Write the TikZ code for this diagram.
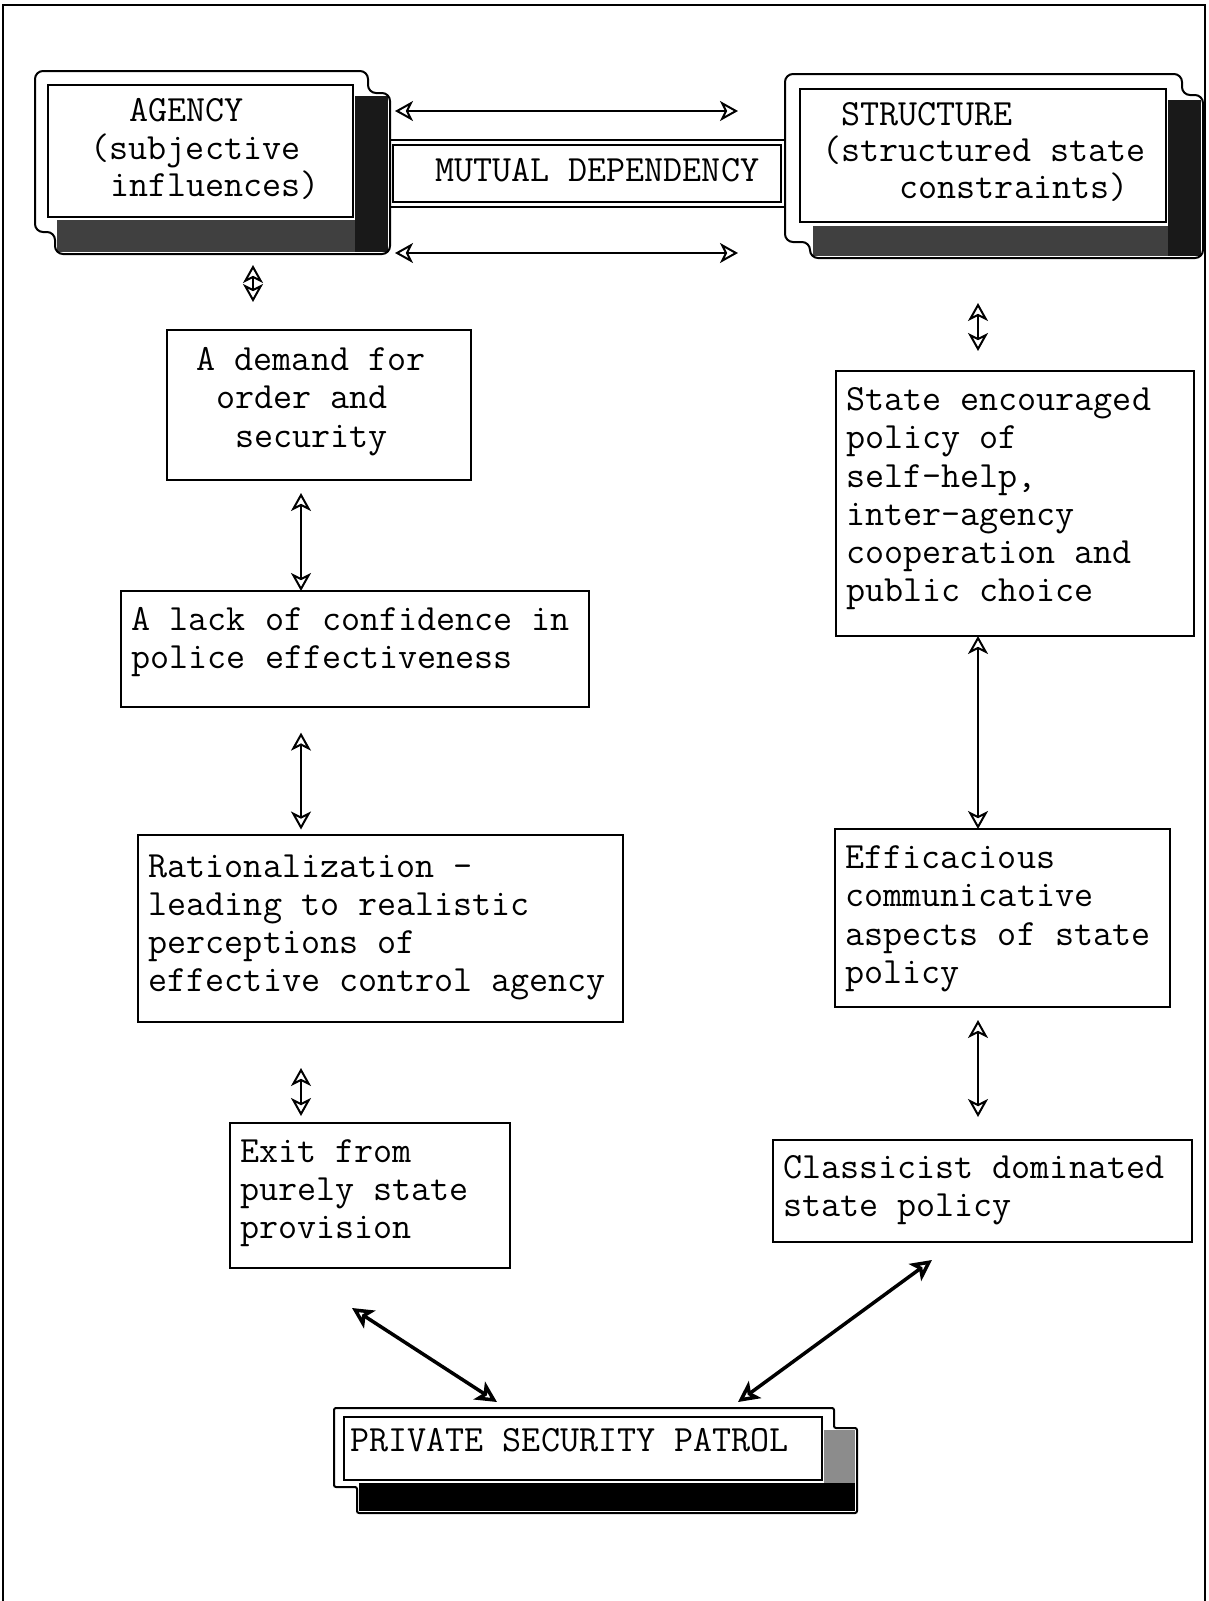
\documentclass[tikz,border=0pt]{standalone}
\usepackage{fontspec}
\usetikzlibrary{arrows.meta}
\newlength{\chw}
\setlength{\chw}{19.425pt}
\newcommand{\firstln}{\rule{0pt}{28pt}}
\tikzset{
    box/.style={draw, line width=2.5pt, fill=white, anchor=north west, inner sep=0pt, outer sep=0pt},
    txt/.style={font=\ttfamily\fontsize{37}{#1}\selectfont, align=left, inner sep=0pt, anchor=north west},
    txt/.default=38.4,
    dbl/.style={{Stealth[open,length=18pt,width=20pt,inset=5pt]}-{Stealth[open,length=18pt,width=20pt,inset=5pt]}, line width=2pt},
    dblthick/.style={{Stealth[open,length=21pt,width=21pt,inset=5pt]}-{Stealth[open,length=21pt,width=21pt,inset=5pt]}, line width=3.5pt},
    outline/.style={line width=2pt, rounded corners=8pt}
}
\begin{document}
\begin{tikzpicture}[x=1pt,y=-1pt]
\useasboundingbox (0,0) rectangle (1208,1601);
% frame
\draw[line width=2pt] (3,1601) -- (3,5) -- (1205,5) -- (1205,1601);
% shadows
\fill[black!90] (355,96) -- (388,96) -- (388,252) -- (355,252) -- cycle;
\fill[black!75] (57,220) -- (355,220) -- (355,252) -- (57,252) -- cycle;
\fill[black!90] (1168,100) -- (1201,100) -- (1201,256) -- (1168,256) -- cycle;
\fill[black!75] (813,226) -- (1168,226) -- (1168,256) -- (813,256) -- cycle;
\fill[black!45] (824,1430) -- (855,1430) -- (855,1483) -- (824,1483) -- cycle;
\fill[black] (359,1483) -- (855,1483) -- (855,1511) -- (359,1511) -- cycle;
% outlines
\draw[outline] (35,71) -- (368,71) -- (368,93) -- (390,93) -- (390,254) -- (55,254) -- (55,232) -- (35,232) -- cycle;
\draw[outline] (785,74) -- (1182,74) -- (1182,95) -- (1203,95) -- (1203,258) -- (810,258) -- (810,242) -- (785,242) -- cycle;
\draw[outline, rounded corners=2pt] (334,1408) -- (834,1408) -- (834,1428) -- (857,1428) -- (857,1513) -- (357,1513) -- (357,1487) -- (334,1487) -- cycle;
\draw[line width=2pt] (390,140) -- (785,140) (390,207) -- (785,207);

% boxes
\node[box, minimum width=305pt, minimum height=132pt] (agency) at (48,85) {};
\node[box, minimum width=366pt, minimum height=133pt] (structure) at (800,89) {};
\node[box, line width=2pt, minimum width=388pt, minimum height=57pt] (mutual) at (393,145) {};
\node[box, minimum width=304pt, minimum height=150pt] (demand) at (167,330) {};
\node[box, minimum width=468pt, minimum height=116pt] (lack) at (121,591) {};
\node[box, minimum width=485pt, minimum height=187pt] (rat) at (138,835) {};
\node[box, minimum width=280pt, minimum height=145pt] (exit) at (230,1123) {};
\node[box, minimum width=358pt, minimum height=265pt] (state) at (836,371) {};
\node[box, minimum width=335pt, minimum height=178pt] (eff) at (835,829) {};
\node[box, minimum width=419pt, minimum height=102pt] (class) at (773,1140) {};
\node[box, line width=2pt, minimum width=478pt, minimum height=63pt] (private) at (344,1417) {};

% texts
\node[txt=37.5] (agencytxt) at (90.5,93.7) {\firstln\hspace*{2\chw}AGENCY\\(subjective\\\hspace*{\chw}influences)};
\node[txt=36.7] (structuretxt) at (821.8,97) {\firstln\hspace*{\chw}STRUCTURE\\(structured state\\\hspace*{4\chw}constraints)};
\node[txt] (mutualtxt) at (435,153.7) {\firstln MUTUAL DEPENDENCY};
\node[txt] (demandtxt) at (196.5,342) {\firstln A demand for\\\hspace*{\chw}order and\\\hspace*{2\chw}security};
\node[txt] (lacktxt) at (131.5,602) {\firstln A lack of confidence in\\police effectiveness};
\node[txt=38] (rattxt) at (148.5,848.8) {\firstln Rationalization -\\leading to realistic\\perceptions of\\effective control agency};
\node[txt=38] (exittxt) at (239.8,1134.4) {\firstln Exit from\\purely state\\provision};
\node[txt=38.2] (statetxt) at (846,382.4) {\firstln State encouraged\\policy of\\self-help,\\inter-agency\\cooperation and\\public choice};
\node[txt=38.3] (efftxt) at (845.3,840.3) {\firstln Efficacious\\communicative\\aspects of state\\policy};
\node[txt] (classtxt) at (783,1150.3) {\firstln Classicist dominated\\state policy};
\node[txt] (privatetxt) at (350.3,1423.7) {\firstln PRIVATE SECURITY PATROL};

% connectors
\draw[dbl, shorten <=42pt, shorten >=62pt] ([yshift=40pt]agency.east) -- ([yshift=40pt]agency.east -| structure.west);
\draw[dbl, shorten <=42pt, shorten >=62pt] ([yshift=-102pt]agency.east) -- ([yshift=-102pt]agency.east -| structure.west);
\draw[dbl, shorten <=48pt, shorten >=28pt] ([xshift=52.5pt]agency.south) -- ([xshift=-66pt]demand.north);
\draw[dbl, shorten <=13pt] ([xshift=-18pt]demand.south) -- ([xshift=-54pt]lack.north);
\draw[dbl, shorten <=25.6pt, shorten >=5.5pt] ([xshift=-54pt]lack.south) -- ([xshift=-79.5pt]rat.north);
\draw[dbl, shorten <=46pt, shorten >=7pt] ([xshift=-79.5pt]rat.south) -- ([xshift=-69pt]exit.north);
\draw[dbl, shorten <=81pt, shorten >=20pt] ([xshift=-5pt]structure.south) -- ([xshift=-37pt]state.north);
\draw[dbl] ([xshift=-37pt]state.south) -- ([xshift=-24.5pt]eff.north);
\draw[dbl, shorten <=13pt, shorten >=23pt] ([xshift=-24.5pt]eff.south) -- ([xshift=-4.5pt]class.north);
\draw[dblthick] ([shift={(122,40)}]exit.south west) -- ([shift={(153,-15)}]private.north west);
\draw[dblthick] ([shift={(159,18)}]class.south west) -- ([shift={(394,-15)}]private.north west);
\end{tikzpicture}
\end{document}
